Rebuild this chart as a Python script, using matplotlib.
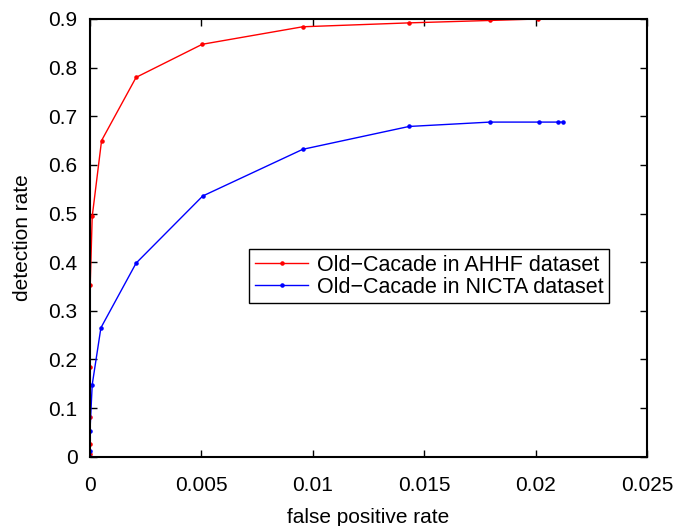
import matplotlib.pyplot as plt

plt.rcParams['font.family'] = ['Liberation Sans', 'DejaVu Sans']

# ROC-like curves
fpr_ahhf = [0, 0, 0, 0, 0, 0.00001, 0.0001, 0.00052, 0.00207, 0.00504,
            0.00955, 0.01432, 0.01796, 0.0201]
det_ahhf = [0, 0.005, 0.027, 0.082, 0.185, 0.353, 0.494, 0.650, 0.780, 0.848,
            0.884, 0.892, 0.897, 0.900]

fpr_nicta = [0, 0, 0, 0.0001, 0.00049, 0.00207, 0.00506, 0.00955, 0.01432,
             0.01796, 0.02014, 0.02102, 0.02121]
det_nicta = [0, 0.011, 0.053, 0.148, 0.265, 0.398, 0.536, 0.632, 0.679,
             0.688, 0.688, 0.688, 0.688]

xticks = [0, 0.005, 0.01, 0.015, 0.02, 0.025]
xlabels = ['0', '0.005', '0.01', '0.015', '0.02', '0.025']
yticks = [0, 0.1, 0.2, 0.3, 0.4, 0.5, 0.6, 0.7, 0.8, 0.9]
ylabels = ['0', '0.1', '0.2', '0.3', '0.4', '0.5', '0.6', '0.7', '0.8', '0.9']

fig = plt.figure(figsize=(6.89, 5.26), dpi=100)
ax = fig.add_axes([0.1306, 0.1318, 0.8084, 0.8321])

ax.plot(fpr_ahhf, det_ahhf, color='red', marker='.', markersize=4.5, lw=1,
        label='Old\u2212Cacade in AHHF dataset')
ax.plot(fpr_nicta, det_nicta, color='blue', marker='.', markersize=4.5, lw=1,
        label='Old\u2212Cacade in NICTA dataset')

ax.set_xlim(0, 0.025)
ax.set_ylim(0, 0.9)
ax.set_xticks(xticks)
ax.set_xticklabels(xlabels)
ax.set_yticks(yticks)
ax.set_yticklabels(ylabels)
ax.tick_params(direction='in', top=True, right=True, length=5, width=1,
               labelsize=15)
ax.tick_params(axis='x', pad=14)
ax.tick_params(axis='y', pad=9)
for s in ax.spines.values():
    s.set_linewidth(1.5)

ax.set_xlabel('false positive rate', fontsize=15, labelpad=9)
ax.set_ylabel('detection rate', fontsize=15, labelpad=12)

leg = ax.legend(loc='upper left', bbox_to_anchor=(0.286, 0.474), fontsize=15.5,
                fancybox=False, edgecolor='black', framealpha=1,
                handlelength=2.5, handletextpad=0.4, borderpad=0.25,
                labelspacing=0.05, borderaxespad=0)
leg.get_frame().set_linewidth(1)

fig.savefig('out.png', dpi=100)
